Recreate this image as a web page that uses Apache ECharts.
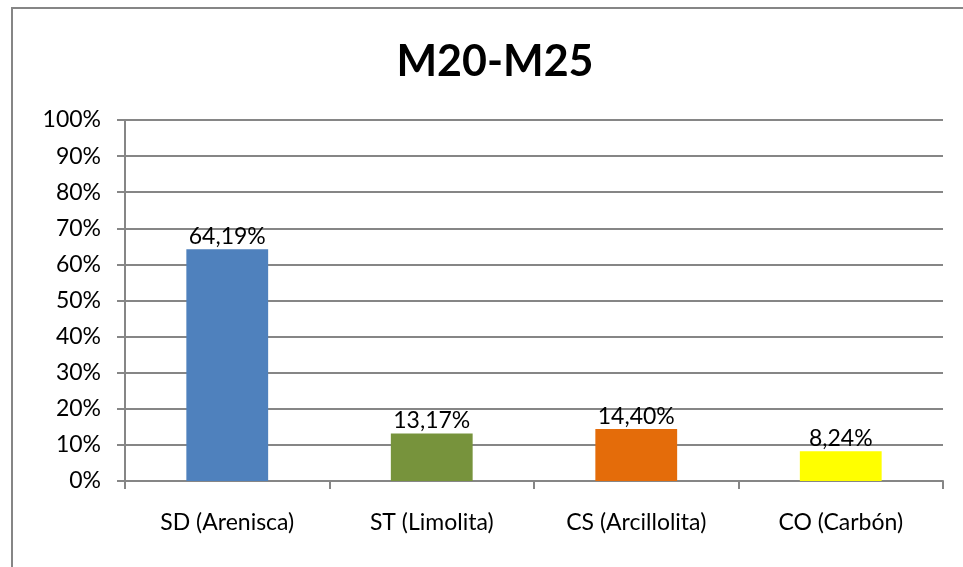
<!DOCTYPE html>
<html>
<head>
<meta charset="utf-8">
<script src="https://cdn.jsdelivr.net/npm/echarts@6/dist/echarts.min.js"></script>
<style>
  html, body { margin: 0; padding: 0; background: #fff; }
  #chart { width: 963px; height: 567px; }
</style>
</head>
<body>
<div id="chart"></div>
<script>
// datos del gráfico
const categorias = ['SD (Arenisca)', 'ST (Limolita)', 'CS (Arcillolita)', 'CO (Carbón)']
const valores = [64.19, 13.17, 14.40, 8.24]
const colores = ['#4F81BD', '#77933C', '#E46C0A', '#FFFF00']

const myChart = echarts.init(document.getElementById('chart'))
const fuente = 'Lato, "Open Sans", sans-serif'

myChart.setOption({
  animation: false,
  title: {
    text: 'M20-M25',
    left: 490,
    textAlign: 'center',
    top: 36,
    textStyle: { fontFamily: fuente, fontSize: 43, fontWeight: 'bold', color: '#000' }
  },
  graphic: [{
    type: 'rect',
    shape: { x: 12, y: 8, width: 1000, height: 620 },
    style: { fill: 'none', stroke: '#868686', lineWidth: 2 },
    silent: true
  }],
  grid: { left: 125, right: 20, top: 120, bottom: 86 },
  xAxis: {
    type: 'category',
    data: categorias,
    axisLine: { lineStyle: { color: '#868686', width: 2 } },
    axisTick: { show: true, length: 8, lineStyle: { color: '#868686', width: 2 } },
    axisLabel: { fontFamily: fuente, fontSize: 23, color: '#000', margin: 30 }
  },
  yAxis: {
    type: 'value',
    min: 0,
    max: 100,
    interval: 10,
    axisLine: { show: true, lineStyle: { color: '#868686', width: 2 } },
    axisTick: { show: true, length: 8, lineStyle: { color: '#868686', width: 2 } },
    axisLabel: { fontFamily: fuente, fontSize: 23, color: '#000', margin: 24, formatter: '{value}%' },
    splitLine: { lineStyle: { color: '#868686', width: 2 } }
  },
  series: [{
    type: 'bar',
    barWidth: '40%',
    data: valores.map((v, i) => ({ value: v, itemStyle: { color: colores[i] } })),
    label: {
      show: true,
      position: 'top',
      distance: 1,
      fontFamily: fuente,
      fontSize: 23,
      color: '#000',
      formatter: p => p.value.toFixed(2).replace('.', ',') + '%'
    }
  }]
})
</script>
</body>
</html>
